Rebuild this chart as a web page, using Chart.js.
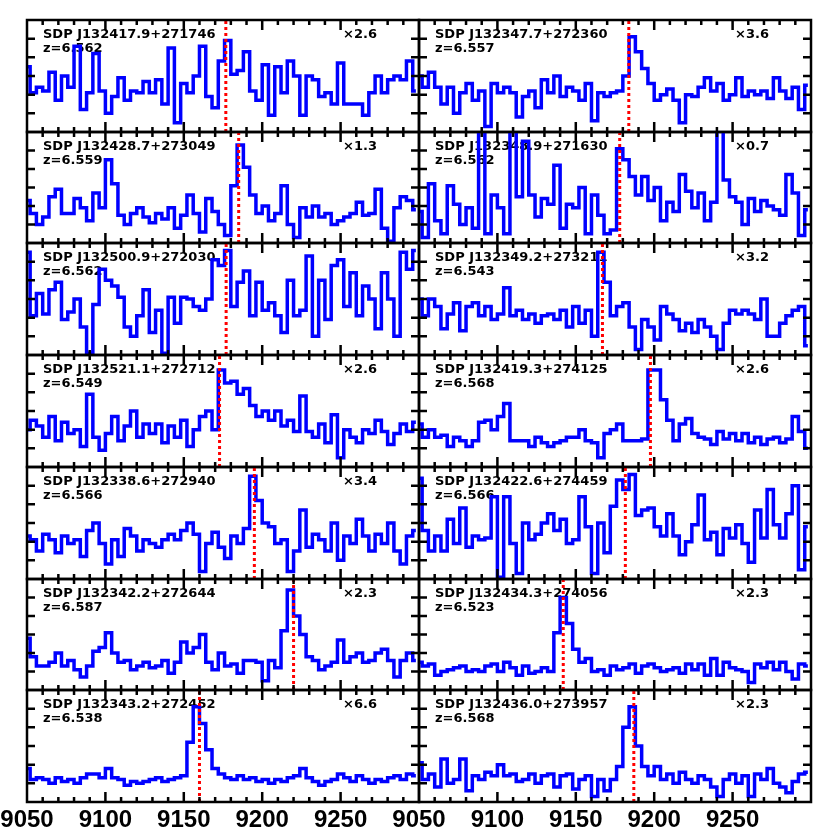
<!DOCTYPE html>
<html>
<head>
<meta charset="utf-8">
<script src="https://cdn.jsdelivr.net/npm/chart.js@4.4.1/dist/chart.umd.min.js"></script>
<style>
  html, body { margin: 0; padding: 0; background: #fff; }
  #wrap { position: relative; width: 830px; height: 830px; overflow: hidden; }
  #wrap canvas { position: absolute; }
</style>
</head>
<body>
<div id="wrap"></div>
<script>
// wavelength grid (Angstrom), shared by every panel
const WAVE = [9050,9054,9058,9062,9066,9070,9074,9078,9082,9086,9090,9094,9098,9102,9106,9110,
  9114,9118,9122,9126,9130,9134,9138,9142,9146,9150,9154,9158,9162,9166,9170,9174,9178,9182,
  9186,9190,9194,9198,9202,9206,9210,9214,9218,9222,9226,9230,9234,9238,9242,9246,9250,9254,
  9258,9262,9266,9270,9274,9278,9282,9286,9290,9294,9298]
const X_LABELS = [9050, 9100, 9150, 9200, 9250]
const Y_TICKS  = [0, 1, 2, 3, 4]

// left column, top to bottom
const NAMES_L = ['SDP J132417.9+271746', 'SDP J132428.7+273049', 'SDP J132500.9+272030',
  'SDP J132521.1+272712', 'SDP J132338.6+272940', 'SDP J132342.2+272644', 'SDP J132343.2+272452']
const Z_L     = ['6.562', '6.559', '6.562', '6.549', '6.566', '6.587', '6.538']
const MULT_L  = ['×2.6', '×1.3', '', '×2.6', '×3.4', '×2.3', '×6.6']
const LYA_L   = [9176.8, 9185, 9177, 9172.8, 9195, 9220, 9160]

// right column, top to bottom
const NAMES_R = ['SDP J132347.7+272360', 'SDP J132348.9+271630', 'SDP J132349.2+273211',
  'SDP J132419.3+274125', 'SDP J132422.6+274459', 'SDP J132434.3+274056', 'SDP J132436.0+273957']
const Z_R     = ['6.557', '6.562', '6.543', '6.568', '6.566', '6.523', '6.568']
const MULT_R  = ['×3.6', '×0.7', '×3.2', '×2.6', '', '×2.3', '×2.3']
const LYA_R   = [9183.8, 9178, 9167, 9197.6, 9181.6, 9142, 9187]

const fluxL1 = [2.5,1.1,1.4,1.2,2.2,0.7,2.0,1.4,3.6,0.2, 1.1,3.2,1.2,0.0,0.9,1.9,0.7,1.2,1.1,1.7,
  1.1,1.8,0.5,3.5,-0.5,1.6,1.1,2.0,3.6,0.9, 0.3,2.8,3.9,2.1,2.3,3.3,1.2,0.7,2.6,-0.1,
  2.5,1.1,2.8,2.0,-0.1,2.0,1.8,0.9,1.1,0.5, 2.7,0.5,0.5,0.5,-0.1,1.1,2.0,1.1,1.8,2.0, 1.8,2.8,1.2]
const fluxL2 = [1.3,0.6,0.0,0.4,1.5,1.9,0.6,0.6,1.4,0.9, 0.2,1.7,0.9,3.5,2.2,0.5,0.0,0.6,0.9,0.4,
  0.1,0.6,0.3,0.9,-0.2,0.5,1.6,0.6,-0.4,1.4, 0.7,0.0,-0.6,2.1,4.3,3.1,1.6,0.6,1.0,0.2,
  0.6,2.1,0.0,-0.7,0.9,0.4,1.0,0.4,0.6,0.0, 0.2,0.4,0.6,1.2,0.5,0.6,1.9,-0.2,-0.9,0.9, 1.5,1.3,0.8]
const fluxL3 = [4.5,1.1,2.3,1.2,2.5,2.9,0.9,1.3,2.0,0.5, -0.9,1.7,3.6,3.0,2.7,2.1,0.5,0.0,1.1,2.5,
  0.2,1.4,-0.9,2.1,0.7,2.1,2.0,1.6,1.4,2.0, 4.1,3.8,4.6,1.6,2.9,3.5,1.1,2.9,1.4,1.8,
  1.1,0.2,3.0,1.1,1.4,4.3,0.0,3.0,0.9,3.8, 4.1,1.6,3.4,1.1,2.7,2.0,0.4,3.4,2.0,0.0, 4.5,3.6,4.6]
const fluxL4 = [1.0,1.5,1.2,0.6,1.7,0.4,1.4,0.8,1.0,0.1, 2.9,0.6,-0.1,0.8,1.7,0.4,1.2,2.0,0.6,1.3,
  0.8,1.3,0.3,1.2,0.6,1.5,0.1,1.0,1.7,2.0, 1.0,4.2,3.5,3.6,2.9,3.2,2.3,1.7,2.0,1.5,
  2.0,1.2,1.5,0.9,2.8,0.9,0.6,1.3,0.3,1.8, -0.5,1.0,0.6,0.3,1.0,0.8,1.5,0.9,0.2,0.8, 1.3,0.9,1.4]
const fluxL5 = [1.3,1.1,0.5,1.4,1.1,0.4,1.3,0.9,1.1,0.2, 1.6,2.0,0.9,-0.2,1.1,0.2,1.7,1.3,0.5,1.1,
  0.9,0.7,1.1,1.4,1.1,1.6,2.0,1.4,-0.6,0.9, 1.5,0.7,0.1,1.3,0.9,1.7,4.5,3.2,2.0,1.8,
  0.9,1.1,-0.6,0.5,2.7,0.7,1.4,1.1,0.5,2.0, 0.0,1.3,0.9,2.2,1.3,0.5,1.4,0.9,2.0,0.5, -0.2,1.3,1.6]
const fluxL6 = [1.8,0.8,0.3,0.3,0.5,1.0,0.3,0.6,0.1,-0.3, 0.3,1.1,1.3,2.1,1.0,0.5,0.6,0.1,0.3,0.5,
  0.2,0.3,0.6,-0.1,0.5,1.6,1.0,1.3,2.0,0.5, 0.1,1.0,0.3,0.4,-0.1,0.6,0.6,0.5,-0.5,0.6,
  0.2,2.2,4.4,3.0,2.0,0.8,0.6,0.1,0.3,0.5, 1.7,0.5,0.8,1.0,0.5,0.6,1.0,1.2,0.6,-0.3, 0.6,1.0,0.6]
const fluxL7 = [0.8,0.2,0.3,0.2,0.0,0.3,0.1,0.2,0.0,0.3, 0.5,0.5,0.3,0.8,0.3,0.2,-0.1,0.1,0.0,0.1,
  0.2,0.3,0.1,0.2,0.3,0.4,2.2,4.1,3.2,1.8, 0.8,0.5,0.3,0.2,0.4,0.2,0.3,0.1,0.2,0.0,
  0.2,0.1,0.3,0.4,0.8,0.3,0.1,-0.1,0.1,0.2, 0.5,0.3,0.1,0.4,0.2,0.0,0.2,0.1,0.3,0.4, 0.2,0.5,0.4]

const fluxR1 = [2.0,1.4,2.2,1.4,0.5,1.4,0.0,1.1,1.6,0.7, 1.2,-0.7,1.6,1.1,1.4,1.1,-0.2,0.9,1.2,0.3,
  1.8,1.1,2.0,0.9,1.4,1.2,0.7,1.6,-0.4,1.1, 0.9,1.1,1.2,2.0,4.1,3.3,2.4,1.6,0.7,1.0,
  1.3,0.7,-0.5,1.0,0.9,1.4,1.9,1.2,1.6,0.7, 1.0,1.9,0.9,1.2,1.0,1.2,0.8,1.9,1.2,0.8, 1.4,0.2,1.5]
const fluxR2 = [0.7,-0.7,2.2,0.2,-0.5,2.1,1.1,0.0,0.9,-0.2, 5.6,-0.5,1.6,0.9,-0.5,5.6,1.5,4.5,1.6,0.4,
  1.4,1.1,3.2,-0.2,1.1,0.9,2.0,-0.5,1.6,0.5, -0.5,-0.3,4.1,3.5,2.6,1.6,2.6,1.3,2.0,0.2,
  1.2,0.7,2.7,1.8,0.9,1.7,0.2,1.2,5.6,2.4, 1.5,1.2,0.0,1.4,0.7,1.3,1.0,0.8,0.5,2.7, 1.7,-0.6,0.8]
const fluxR3 = [2.0,1.1,2.0,1.6,0.4,1.2,1.8,0.3,1.6,1.8, 1.1,1.6,0.9,1.2,2.6,1.1,1.4,0.9,1.2,0.7,
  1.1,1.2,0.9,1.4,0.5,1.6,0.7,1.4,0.0,4.5, 2.9,1.1,1.6,1.8,0.5,-0.7,0.9,0.5,-0.2,1.6,
  1.2,0.9,0.3,0.7,0.2,0.9,0.5,0.0,-0.7,0.7, 1.4,1.2,1.4,1.2,0.9,2.0,0.0,0.0,0.7,1.1, 1.4,1.6,-0.5]
const fluxR4 = [1.3,0.6,1.0,0.6,0.7,0.1,0.6,0.4,0.1,0.4, 1.4,1.5,1.0,1.7,2.4,0.4,0.4,0.4,0.1,0.6,
  0.3,0.1,0.3,0.4,0.6,0.6,1.0,0.4,0.3,-0.5, 0.8,1.0,1.3,0.4,0.4,0.4,0.5,4.2,4.2,2.6,
  1.5,0.4,1.3,1.6,0.8,0.6,0.5,0.2,0.9,0.5, 0.8,0.4,0.8,0.3,0.6,0.2,0.5,0.6,0.3,0.5, 1.7,0.9,0.0]
const fluxR5 = [4.4,1.6,0.5,1.3,0.5,2.2,0.9,2.8,0.7,1.3, 1.1,1.2,3.4,-0.9,3.4,0.9,-0.7,2.0,1.1,1.4,
  2.0,2.5,1.6,2.2,0.9,1.1,3.4,1.8,-0.7,2.0, 0.4,2.9,4.3,3.8,4.6,2.4,2.7,2.8,1.8,1.3,
  2.5,1.3,0.3,1.0,1.9,3.5,1.1,1.5,0.3,1.7, 1.2,1.9,0.9,-0.1,2.7,1.2,3.8,1.9,1.2,2.5, 4.0,-0.5,1.8]
const fluxR6 = [0.5,0.3,0.4,-0.2,0.0,0.1,0.2,0.3,0.0,0.1, 0.0,0.3,0.4,0.0,0.5,0.2,-0.2,0.3,-0.1,0.0,
  0.2,0.0,2.1,4.0,2.6,1.2,0.5,0.7,0.0,0.1, -0.2,0.3,0.1,0.2,0.4,-0.1,0.3,0.4,0.2,0.0,
  0.1,0.2,-0.1,0.4,0.1,0.4,-0.2,0.7,-0.2,0.5, 0.2,0.1,0.0,-0.6,0.4,0.2,0.5,0.1,0.5,0.0, -0.4,0.4,0.3]
const fluxR7 = [1.1,0.2,0.5,-0.2,1.3,0.0,0.2,1.3,-0.4,0.4, 0.2,0.6,0.4,1.0,0.4,0.5,0.1,0.2,0.5,0.0,
  0.4,0.5,-0.2,0.4,0.5,-0.3,0.2,0.4,-0.7,0.2, -0.4,0.2,0.9,3.0,4.1,2.0,0.9,0.4,0.9,0.2,
  0.5,0.0,0.6,0.2,0.0,0.4,0.2,-0.2,-0.7,0.2, 0.5,0.0,0.4,-0.7,0.5,0.2,0.8,0.0,-0.2,-0.5, 0.1,0.5,0.6]

const FLUX_L = [fluxL1, fluxL2, fluxL3, fluxL4, fluxL5, fluxL6, fluxL7]
const FLUX_R = [fluxR1, fluxR2, fluxR3, fluxR4, fluxR5, fluxR6, fluxR7]

// panel frame geometry (page pixels)
const ROW_TOP = [20, 132, 243, 355, 467, 579, 690, 802]
const COL_X   = [27, 419, 811]

const panelDeco = {
  id: 'panelDeco',
  beforeDatasetsDraw(chart, args, o) {
    const { ctx, chartArea: a } = chart
    ctx.save()
    ctx.fillStyle = '#000'
    ctx.font = 'bold 13px "DejaVu Sans"'
    ctx.textBaseline = 'alphabetic'
    ctx.textAlign = 'left'
    ctx.fillText(o.name, a.left + 16, a.top + 18)
    ctx.fillText('z=' + o.z, a.left + 16, a.top + 32)
    if (o.mult) ctx.fillText(o.mult, a.left + 316, a.top + 18)
    ctx.restore()
  },
  afterDatasetsDraw(chart, args, o) {
    const { ctx, chartArea: a, scales: { x, y } } = chart
    ctx.save()
    ctx.strokeStyle = '#000'
    ctx.lineWidth = 2.5
    ctx.beginPath()
    for (let w = 9060; w < 9300; w += 10) {
      const px = x.getPixelForValue(w)
      const len = w % 50 === 0 ? 10 : 5
      ctx.moveTo(px, a.bottom); ctx.lineTo(px, a.bottom - len)
      ctx.moveTo(px, a.top);    ctx.lineTo(px, a.top + len)
    }
    for (const v of Y_TICKS) {
      const py = y.getPixelForValue(v)
      ctx.moveTo(a.left, py);  ctx.lineTo(a.left + 8, py)
      ctx.moveTo(a.right, py); ctx.lineTo(a.right - 8, py)
    }
    ctx.stroke()
    ctx.strokeRect(a.left, a.top, a.right - a.left, a.bottom - a.top)

    if (o.bottom) {
      ctx.fillStyle = '#000'
      ctx.font = 'bold 24px "Liberation Sans"'
      ctx.textAlign = 'center'
      ctx.textBaseline = 'alphabetic'
      for (const v of X_LABELS) ctx.fillText(String(v), x.getPixelForValue(v), a.bottom + 25)
    }
    ctx.restore()
  }
}

function makePanel(col, row, name, z, mult, lya, flux) {
  const bottom = row === 6
  const padL = col === 0 ? COL_X[0] : 30
  const padR = col === 0 ? 30 : 830 - COL_X[2]
  const left = COL_X[col] - padL
  const width = (COL_X[col + 1] - COL_X[col]) + padL + padR
  const padT = 4
  const padB = bottom ? 30 : 4
  const top = ROW_TOP[row] - padT
  const height = (ROW_TOP[row + 1] - ROW_TOP[row]) + padT + padB

  const canvas = document.createElement('canvas')
  canvas.width = width
  canvas.height = height
  canvas.style.left = left + 'px'
  canvas.style.top = top + 'px'
  canvas.style.width = width + 'px'
  canvas.style.height = height + 'px'
  document.getElementById('wrap').appendChild(canvas)

  new Chart(canvas, {
    type: 'line',
    data: {
      datasets: [
        {
          data: [{ x: lya, y: -1 }, { x: lya, y: 5 }],
          borderColor: '#ff0000',
          borderWidth: 3,
          borderDash: [3, 3],
          pointRadius: 0,
        },
        {
          data: flux.map((f, i) => ({ x: WAVE[i], y: f })),
          borderColor: '#0000ff',
          borderWidth: 3.5,
          borderJoinStyle: 'miter',
          stepped: 'middle',
          pointRadius: 0,
        },
      ],
    },
    options: {
      responsive: false,
      animation: false,
      events: [],
      layout: { padding: { left: padL, right: padR, top: padT, bottom: padB } },
      plugins: {
        legend: { display: false },
        tooltip: { enabled: false },
        panelDeco: { name, z, mult, bottom },
      },
      scales: {
        x: { type: 'linear', min: 9050, max: 9300, display: false },
        y: { min: -1, max: 5, display: false },
      },
    },
    plugins: [panelDeco],
  })
}

for (let r = 0; r < 7; r++) {
  makePanel(0, r, NAMES_L[r], Z_L[r], MULT_L[r], LYA_L[r], FLUX_L[r])
  makePanel(1, r, NAMES_R[r], Z_R[r], MULT_R[r], LYA_R[r], FLUX_R[r])
}
</script>
</body>
</html>
